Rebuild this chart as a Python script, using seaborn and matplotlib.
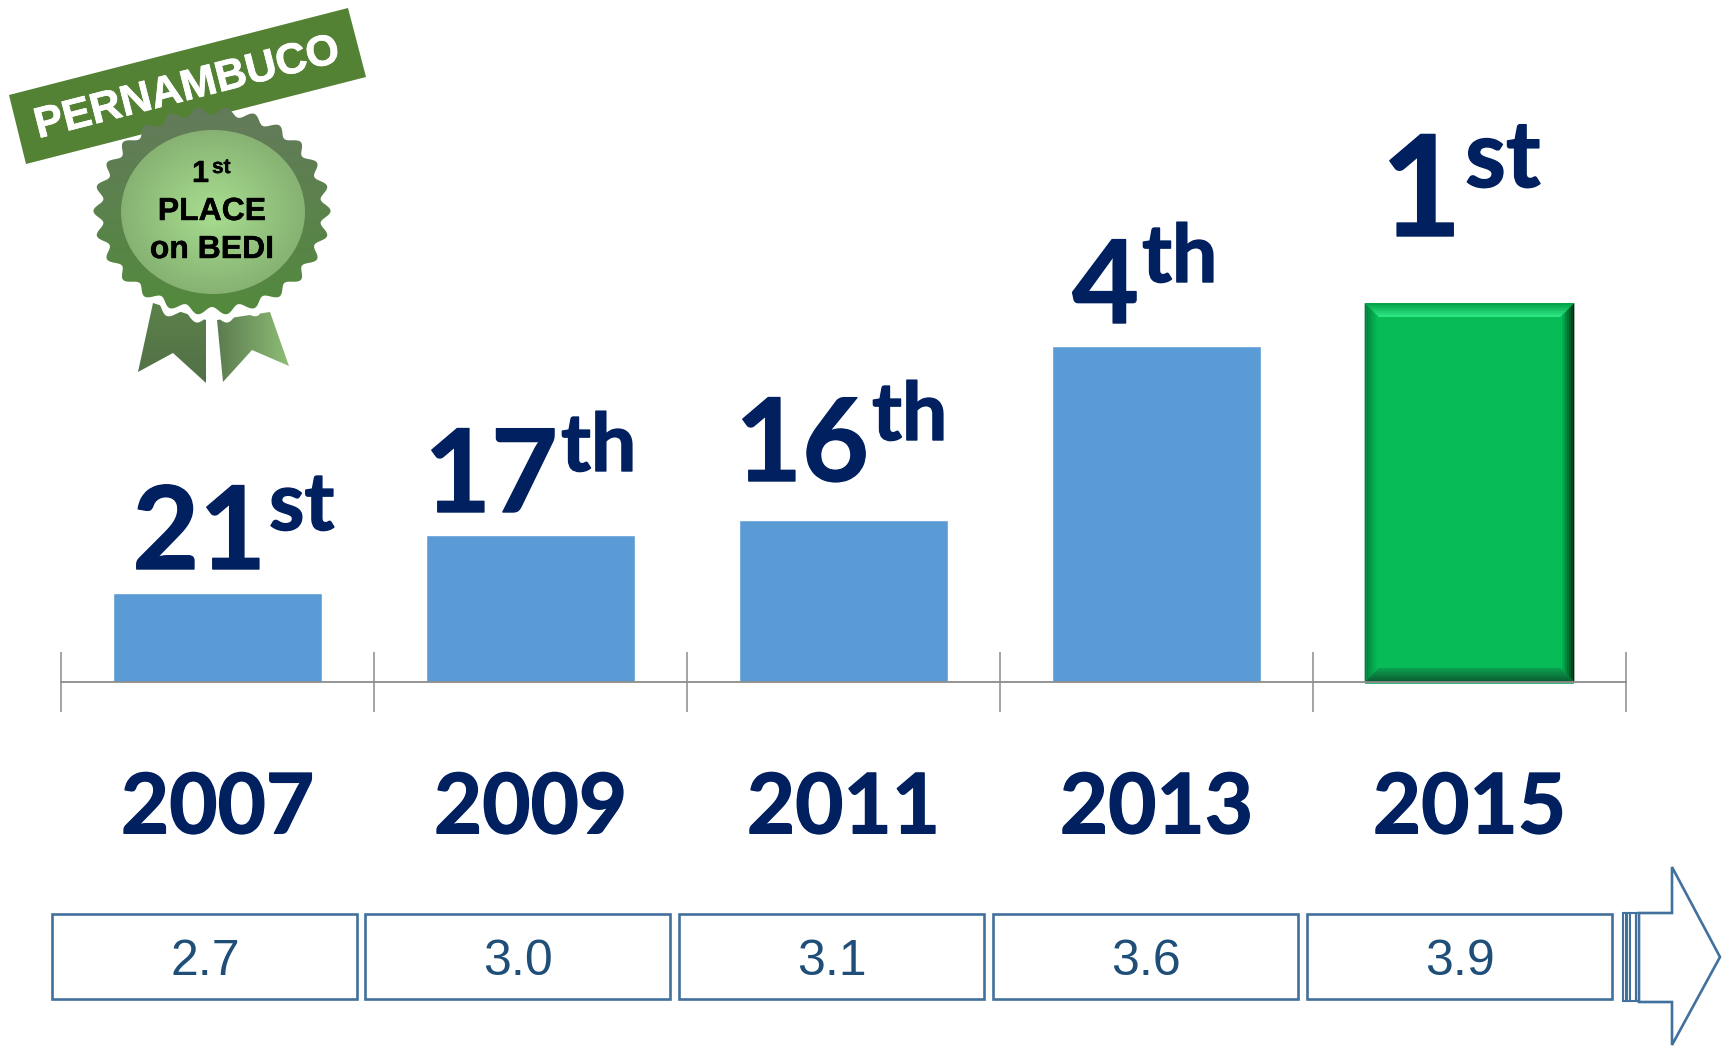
import numpy as np
import pandas as pd
import matplotlib
matplotlib.use("Agg")
import matplotlib.pyplot as plt
import matplotlib.patheffects as pe
from matplotlib.colors import to_rgb
from matplotlib.patches import Polygon, Rectangle, Ellipse
import seaborn as sns

# data
years = ["2007", "2009", "2011", "2013", "2015"]
bar_heights = [89, 147, 162, 336, 379]
rank_numbers = ["21", "17", "16", "4", "1"]
rank_suffixes = ["st", "th", "th", "th", "st"]
box_values = ["2.7", "3.0", "3.1", "3.6", "3.9"]

W, H = 1733, 1047
BASE_Y = 682
NAVY = "#002060"
BLUE = "#5B9BD5"
GREEN = "#07BC57"
GREY = "#8C8C8C"
BOX_EDGE = "#41719C"
BOX_TEXT = "#1F4E79"
BANNER = "#548235"

sns.set_style("white")
plt.rcParams["font.family"] = ["Liberation Sans", "DejaVu Sans"]

df = pd.DataFrame({"year": years, "height": bar_heights})

fig = plt.figure(figsize=(W / 100, H / 100), dpi=100)
ax = fig.add_axes([61 / W, (H - BASE_Y) / H, 1565 / W, BASE_Y / H])
over = fig.add_axes([0, 0, 1, 1], zorder=5)
over.patch.set_alpha(0)
over.axis("off")


def thick(color, lw):
    return [pe.withStroke(linewidth=lw, foreground=color, joinstyle="round", capstyle="round")]


heavy = thick(NAVY, 1.0)

# Bars
sns.barplot(data=df, x="year", y="height", hue="year", order=years,
            palette=[BLUE] * 4 + [GREEN], width=0.67, saturation=1,
            legend=False, ax=ax)
ax.set_xlim(-0.5, 4.5)
ax.set_ylim(0, BASE_Y)
ax.set_xlabel("")
ax.set_ylabel("")
ax.set_yticks([])
ax.patch.set_alpha(0)
sns.despine(ax=ax, left=True)
ax.spines["bottom"].set_color(GREY)
ax.spines["bottom"].set_linewidth(1.3)

# Ticks between the years, year names as minor tick labels
ax.set_xticks(np.arange(-0.5, 5, 1), labels=[""] * 6)
ax.tick_params(axis="x", which="major", direction="inout", length=43.2,
               width=1.1, color=GREY, bottom=True)
ax.set_xticks(range(len(years)), labels=years, minor=True)
ax.tick_params(axis="x", which="minor", length=0, pad=65, bottom=True)
for lab in ax.get_xticklabels(minor=True):
    lab.set_fontfamily("Lato")
    lab.set_fontweight("bold")
    lab.set_fontsize(60)
    lab.set_color(NAVY)
    lab.set_path_effects(heavy)

over.set_xlim(0, W)
over.set_ylim(H, 0)


def lerp(c1, c2, t):
    return np.array(to_rgb(c1)) * (1 - t) + np.array(to_rgb(c2)) * t


# Bevel on the last bar
bar = ax.patches[4]
fig.canvas.draw()
bb = bar.get_window_extent()
x0, x1 = bb.x0, bb.x1
y0, y1 = H - bb.y1, H - bb.y0
bevel = 14
steps = 7
sides = {
    "top": ("#05A34A", "#2CE583"),
    "left": ("#04793A", "#07BC57"),
    "right": ("#00240F", "#07BC57"),
    "bottom": ("#0B5F34", "#0A9C4C"),
}
for side, (c_out, c_in) in sides.items():
    for i in range(steps):
        a = bevel * i / steps
        b = bevel * (i + 1) / steps
        if side == "top":
            pts = [(x0 + a, y0 + a), (x1 - a, y0 + a), (x1 - b, y0 + b), (x0 + b, y0 + b)]
        elif side == "bottom":
            pts = [(x0 + a, y1 - a), (x1 - a, y1 - a), (x1 - b, y1 - b), (x0 + b, y1 - b)]
        elif side == "left":
            pts = [(x0 + a, y0 + a), (x0 + a, y1 - a), (x0 + b, y1 - b), (x0 + b, y0 + b)]
        else:
            pts = [(x1 - a, y0 + a), (x1 - a, y1 - a), (x1 - b, y1 - b), (x1 - b, y0 + b)]
        ax.add_patch(Polygon(pts, closed=True, transform=over.transData, zorder=2,
                             fc=lerp(c_out, c_in, i / (steps - 1)), ec="none", clip_on=False))
# thin green edge under the axis line
ax.add_patch(Rectangle((x0, y1), x1 - x0, 2, transform=over.transData, zorder=1.5,
                       fc="#3FB57F", ec="none", clip_on=False))

# Rank labels, the last one is set larger
rank_x = [266, 558, 869, 1139, 1462]
rank_y = [569, 512, 481, 323, 236]
rank_size = [83, 83, 83, 83, 101]
suffix_size = [58, 58, 58, 58, 67]
suffix_rise = [39, 41, 41, 41, 49]
for i, (num, suf, x, y) in enumerate(zip(rank_numbers, rank_suffixes, rank_x, rank_y)):
    over.text(x, y, num, ha="right", va="baseline", family="Lato", weight="bold",
              fontsize=rank_size[i], color=NAVY, path_effects=heavy)
    over.text(x + 3, y - suffix_rise[i], suf, ha="left", va="baseline", family="Lato", weight="bold",
              fontsize=suffix_size[i], color=NAVY, path_effects=heavy)

# Boxes under the years
box_left = [52, 365, 679, 993, 1307]
for val, x in zip(box_values, box_left):
    over.add_patch(Rectangle((x, 914), 305, 85, fc="white", ec=BOX_EDGE, lw=1.9))
    over.text(x + 153, 975, val, ha="center", va="baseline", fontsize=36, color=BOX_TEXT)

# Arrow at the end
for x in [1623, 1627, 1630, 1636]:
    over.add_patch(Rectangle((x, 913), 3 if x != 1630 else 6, 88, fc="white", ec=BOX_EDGE, lw=1.5))
arrow = [(1639, 913), (1672, 913), (1672, 867), (1720, 957), (1672, 1045), (1672, 1002), (1639, 1002)]
over.add_patch(Polygon(arrow, closed=True, fc="white", ec=BOX_EDGE, lw=1.9))

# Ribbons of the badge
rib_left = Polygon([(153, 303), (138, 372), (173, 353), (206, 383), (206, 320)], closed=True,
                   transform=over.transData, ec="none", fc="none")
rib_right = Polygon([(217, 320), (223, 382), (252, 350), (289, 366), (270, 312)], closed=True,
                    transform=over.transData, ec="none", fc="none")


def gradient(extent, c1, c2, horizontal=False, clip=None, zorder=2):
    t = np.linspace(0, 1, 64)
    if horizontal:
        t = t[None, :]
    else:
        t = t[:, None]
    img = np.array(to_rgb(c1)) * (1 - t[..., None]) + np.array(to_rgb(c2)) * t[..., None]
    im = over.imshow(img, extent=extent, aspect="auto", origin="upper", zorder=zorder)
    if clip is not None:
        over.add_patch(clip)
        im.set_clip_path(clip)
    return im


gradient((138, 206, 383, 303), "#5B8148", "#527048", clip=rib_left)
gradient((217, 289, 382, 312), "#5C7C50", "#8DBD76", horizontal=True, clip=rib_right)

# Seal
theta = np.linspace(0, 2 * np.pi, 1000)
wave = 1 + 0.04 * np.cos(26 * theta)
seal_x = 212 + 114 * wave * np.cos(theta)
seal_y = 211 + 100 * wave * np.sin(theta)
white_x = 212 + 122 * wave * np.cos(theta)
white_y = 211 + 108 * wave * np.sin(theta)
over.add_patch(Polygon(np.c_[white_x, white_y], closed=True, fc="white", ec="none", zorder=3))

# Banner
banner = [(9, 95), (348, 8), (366, 77), (26, 164)]
over.add_patch(Polygon(banner, closed=True, fc=BANNER, ec="none", zorder=4))
over.text(187, 89, "PERNAMBUCO", rotation=14.3, rotation_mode="anchor", ha="center", va="center",
          color="white", weight="bold", fontsize=31, zorder=5, path_effects=thick("white", 0.5))

seal_clip = Polygon(np.c_[seal_x, seal_y], closed=True, transform=over.transData, ec="none", fc="none")
gradient((90, 335, 320, 100), "#647A5C", "#528A3C", clip=seal_clip, zorder=6)

# inner disc with a radial shade
gx, gy = np.meshgrid(np.linspace(-1, 1, 128), np.linspace(-1, 1, 128))
rad = np.clip(np.sqrt(gx ** 2 + gy ** 2), 0, 1)[..., None]
disc_img = np.array(to_rgb("#A8DE90")) * (1 - rad) + np.array(to_rgb("#87B273")) * rad
disc = over.imshow(disc_img, extent=(121, 305, 294, 130), aspect="auto", origin="upper", zorder=7)
disc_clip = Ellipse((213, 212), 184, 164, transform=over.transData, ec="none", fc="none")
over.add_patch(disc_clip)
disc.set_clip_path(disc_clip)

black_heavy = thick("black", 0.3)
over.text(209, 182, "1", ha="right", va="baseline", weight="bold", fontsize=22, color="black",
          zorder=8, path_effects=black_heavy)
over.text(212, 173, "st", ha="left", va="baseline", weight="bold", fontsize=15, color="black",
          zorder=8, path_effects=black_heavy)
over.text(212, 220, "PLACE", ha="center", va="baseline", weight="bold", fontsize=23, color="black",
          zorder=8, path_effects=black_heavy)
over.text(212, 258, "on BEDI", ha="center", va="baseline", weight="bold", fontsize=23, color="black",
          zorder=8, path_effects=black_heavy)

over.set_xlim(0, W)
over.set_ylim(H, 0)

fig.savefig("out.png", dpi=100)
